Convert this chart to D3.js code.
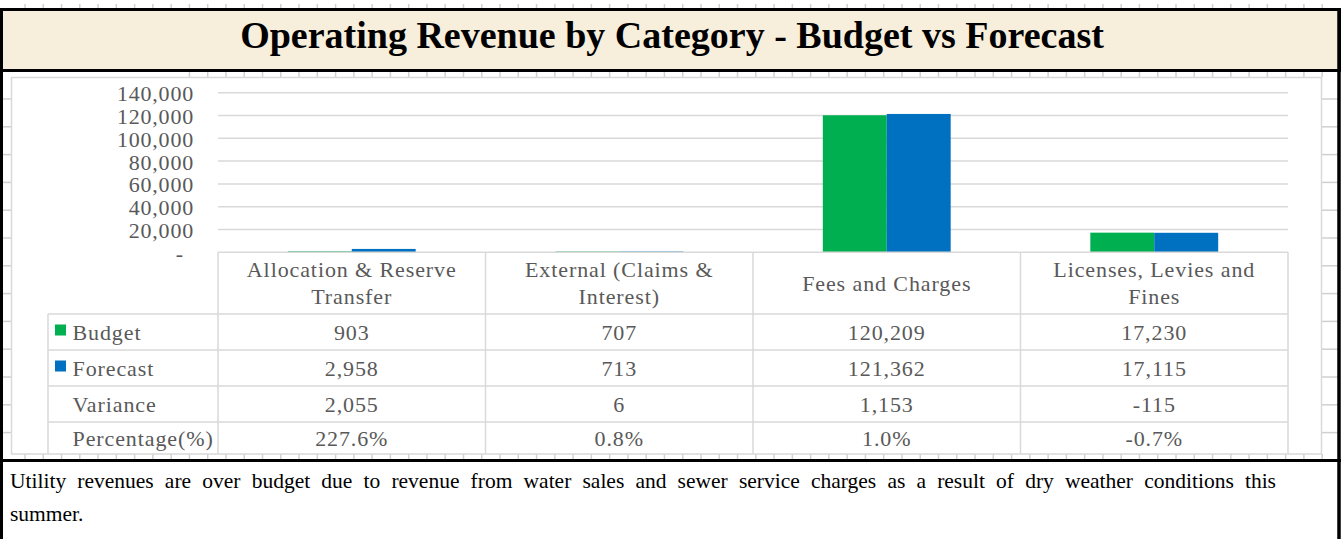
<!DOCTYPE html>
<html>
<head>
<meta charset="utf-8">
<script src="https://cdn.jsdelivr.net/npm/d3@7"></script>
<style>
  html, body { margin: 0; padding: 0; background: #fff; }
  svg { display: block; }
</style>
</head>
<body>
<div id="chart"></div>
<script>
// Data
const categories = [
  ['Allocation & Reserve', 'Transfer'],
  ['External (Claims &', 'Interest)'],
  ['Fees and Charges'],
  ['Licenses, Levies and', 'Fines']
];
const seriesNames = ['Budget', 'Forecast'];
const budget = [903, 707, 120209, 17230];
const forecast = [2958, 713, 121362, 17115];
const variance = ['2,055', '6', '1,153', '-115'];
const percentage = ['227.6%', '0.8%', '1.0%', '-0.7%'];
const yTicks = [0, 20000, 40000, 60000, 80000, 100000, 120000, 140000];
const titleText = 'Operating Revenue by Category - Budget vs Forecast';
const noteLines = [
  'Utility revenues are over budget due to revenue from water sales and sewer service charges as a result of dry weather conditions this',
  'summer.'
];

const W = 1344, H = 539;
const colors = { Budget: '#00b050', Forecast: '#0070c0' };
const textGray = '#595959';
const gridGray = '#d9d9d9';
const serif = '"Liberation Serif", "Times New Roman", serif';

const svg = d3.select('#chart').append('svg')
  .attr('width', W).attr('height', H);

// spreadsheet cell gridlines peeking through gaps
const sheet = svg.append('g').attr('stroke', '#d0d0d0').attr('stroke-width', 1.5);
const colXs = d3.range(25, 1340, 18.27);
sheet.selectAll('.ttop').data(colXs).join('line')
  .attr('x1', d => d).attr('x2', d => d).attr('y1', 4).attr('y2', 9);
sheet.selectAll('.tmid').data(colXs.filter(x => x > 185)).join('line')
  .attr('x1', d => d).attr('x2', d => d).attr('y1', 71).attr('y2', 77);
sheet.selectAll('.tbot').data(colXs).join('line')
  .attr('x1', d => d).attr('x2', d => d).attr('y1', 454).attr('y2', 460);
const rowYs = d3.range(99, 455, 27.8);
sheet.selectAll('.rl').data(rowYs).join('line')
  .attr('x1', 2).attr('x2', 12).attr('y1', d => d).attr('y2', d => d);
sheet.selectAll('.rr').data(rowYs).join('line')
  .attr('x1', 1322).attr('x2', 1338).attr('y1', d => d).attr('y2', d => d);

// title box
svg.append('rect')
  .attr('x', 1.5).attr('y', 9.5).attr('width', 1338).attr('height', 61)
  .attr('fill', '#f7eedc').attr('stroke', '#000').attr('stroke-width', 3);
svg.append('text')
  .attr('x', 672).attr('y', 48)
  .attr('text-anchor', 'middle')
  .attr('font-family', serif).attr('font-weight', 'bold').attr('font-size', 38)
  .attr('fill', '#000')
  .text(titleText);

// outer side borders
svg.append('line').attr('x1', 1.5).attr('x2', 1.5).attr('y1', 9).attr('y2', H).attr('stroke', '#000').attr('stroke-width', 3);
svg.append('line').attr('x1', 1339).attr('x2', 1339).attr('y1', 9).attr('y2', H).attr('stroke', '#000').attr('stroke-width', 3.5);
svg.append('line').attr('x1', 0).attr('x2', 1341).attr('y1', 460.5).attr('y2', 460.5).attr('stroke', '#000').attr('stroke-width', 3);

// chart area border
svg.append('rect')
  .attr('x', 11.5).attr('y', 77.5).attr('width', 1310).attr('height', 376.5)
  .attr('fill', '#fff').attr('stroke', gridGray).attr('stroke-width', 1.5);

// scales
const plotLeft = 218, plotRight = 1288;
const y = d3.scaleLinear().domain([0, 140000]).range([252.3, 92.7]);
const x0 = d3.scaleBand().domain(d3.range(categories.length)).range([plotLeft, plotRight]);
const groupW = x0.bandwidth() * 0.478;
const x1 = d3.scaleBand().domain(seriesNames)
  .range([(x0.bandwidth() - groupW) / 2, (x0.bandwidth() + groupW) / 2]);

// gridlines
svg.append('g').selectAll('line').data(yTicks.slice(1)).join('line')
  .attr('x1', plotLeft).attr('x2', plotRight)
  .attr('y1', d => y(d)).attr('y2', d => y(d))
  .attr('stroke', gridGray).attr('stroke-width', 1.5);

// y axis labels
const yAxis = svg.append('g')
  .attr('transform', `translate(194,0)`)
  .call(d3.axisLeft(y).tickValues(yTicks).tickSize(0).tickPadding(0)
    .tickFormat(d => d === 0 ? '-' : d3.format(',')(d)));
yAxis.select('.domain').remove();
yAxis.selectAll('text')
  .attr('font-family', serif).attr('font-size', 22).attr('fill', textGray)
  .attr('letter-spacing', 0.8)
  .attr('dy', '0.36em');
yAxis.selectAll('.tick').filter(d => d === 0).select('text').attr('x', -10);

// bars
const seriesData = { Budget: budget, Forecast: forecast };
const barG = svg.append('g');
seriesNames.forEach(s => {
  barG.selectAll(null).data(seriesData[s]).join('rect')
    .attr('x', (d, i) => x0(i) + x1(s))
    .attr('width', x1.bandwidth())
    .attr('y', d => y(d))
    .attr('height', d => y(0) - y(d))
    .attr('fill', colors[s]);
});

// data table
const tbl = svg.append('g').attr('font-family', serif).attr('font-size', 22)
  .attr('fill', textGray).attr('letter-spacing', 0.9);
const rowTops = [252.3, 314, 350, 386, 422, 454];
const tableLeft = 48;
const lineG = svg.append('g').attr('stroke', gridGray).attr('stroke-width', 1.5);
// header top border
lineG.append('line').attr('x1', plotLeft).attr('x2', plotRight).attr('y1', rowTops[0]).attr('y2', rowTops[0]);
// row borders
rowTops.slice(1, 5).forEach(ry => {
  lineG.append('line').attr('x1', tableLeft).attr('x2', plotRight).attr('y1', ry).attr('y2', ry);
});
// vertical borders
d3.range(categories.length + 1).forEach(i => {
  const vx = i < categories.length ? x0(i) : plotRight;
  lineG.append('line').attr('x1', vx).attr('x2', vx).attr('y1', rowTops[0]).attr('y2', 454);
});
lineG.append('line').attr('x1', tableLeft).attr('x2', tableLeft).attr('y1', rowTops[1]).attr('y2', 454);

// header labels
categories.forEach((lines, i) => {
  const cx = x0(i) + x0.bandwidth() / 2;
  const mid = (rowTops[0] + rowTops[1]) / 2;
  lines.forEach((ln, j) => {
    tbl.append('text')
      .attr('x', cx)
      .attr('y', mid + (j - (lines.length - 1) / 2) * 27)
      .attr('dy', '0.35em')
      .attr('text-anchor', 'middle')
      .text(ln);
  });
});

const rows = [
  { label: 'Budget', vals: budget.map(d3.format(',')), key: 'Budget' },
  { label: 'Forecast', vals: forecast.map(d3.format(',')), key: 'Forecast' },
  { label: 'Variance', vals: variance },
  { label: 'Percentage(%)', vals: percentage }
];
rows.forEach((r, k) => {
  const cy = (rowTops[k + 1] + rowTops[k + 2]) / 2;
  if (r.key) {
    svg.append('rect').attr('x', 55).attr('y', cy - 7.5).attr('width', 11).attr('height', 11)
      .attr('fill', colors[r.key]);
  }
  tbl.append('text').attr('x', 72.5).attr('y', cy).attr('dy', '0.35em').text(r.label);
  r.vals.forEach((v, i) => {
    tbl.append('text')
      .attr('x', x0(i) + x0.bandwidth() / 2)
      .attr('y', cy).attr('dy', '0.35em')
      .attr('text-anchor', 'middle')
      .text(v);
  });
});

// note text - first line stretched with word spacing like the justified cell
const note = svg.append('g').attr('font-family', serif).attr('font-size', 21.5).attr('fill', '#000');
noteLines.forEach((ln, i) => {
  const t = note.append('text').attr('x', 10).attr('y', 488 + i * 33).text(ln);
  if (i === 0) {
    const natural = t.node().getComputedTextLength();
    const gaps = ln.split(' ').length - 1;
    t.attr('word-spacing', Math.max(0, (1266 - natural) / gaps));
  }
});
</script>
</body>
</html>
